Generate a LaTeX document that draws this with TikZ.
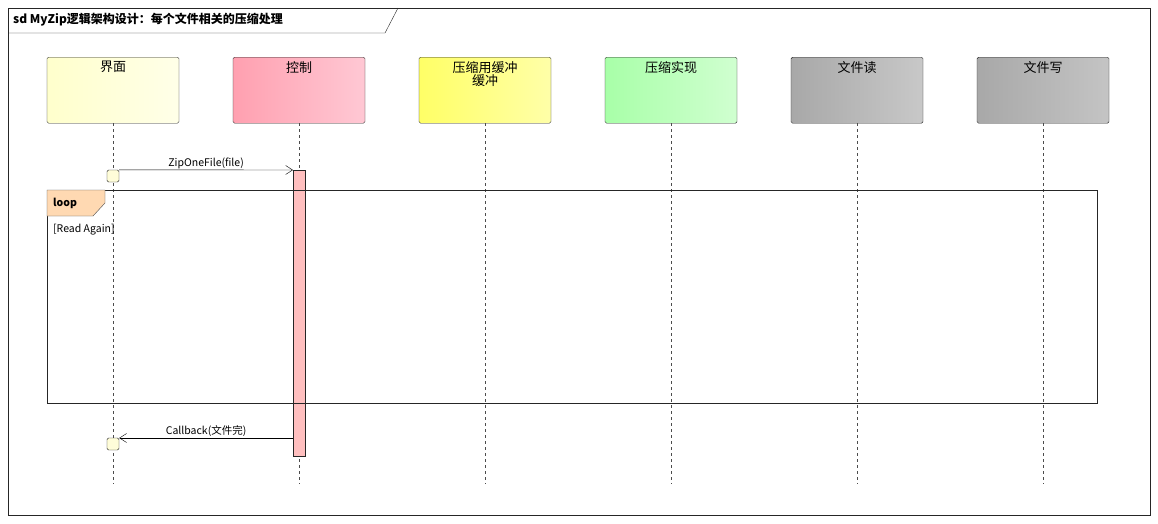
\documentclass[tikz,border=0pt]{standalone}
\usepackage{fontspec}
\setmainfont{Noto Sans CJK SC}
\usetikzlibrary{arrows.meta}
\begin{document}
\begin{tikzpicture}[x=1pt,y=-1pt,
 life/.style={draw=black!85,rounded corners=1.5pt,minimum width=132pt,minimum height=66pt,anchor=north},
 ltxt/.style={anchor=north,align=center,inner sep=0pt,font=\fontsize{13}{14}\selectfont},
 lline/.style={dashed,black!70},
 msg/.style={-{Straight Barb[length=7pt,width=9pt]},black},
 lab/.style={font=\fontsize{10.5}{12}\selectfont,inner sep=1pt}]
\useasboundingbox (0,0) rectangle (1158,523);
\fill[white] (0,0) rectangle (1158,523);
\draw[black!85] (8,8) rectangle (1150,515);
\draw[black!85] (8,33) -- (385,33) -- (398,8);
\node[anchor=west,font=\bfseries\fontsize{12}{14}\selectfont,inner sep=0] (title) at (13,20) {sd MyZip逻辑架构设计：每个文件相关的压缩处理};
\foreach \n/\x/\t/\ca/\cb in {ui/113/界面/FFFFCC/FFFFE8, ctl/299/控制/FFA0B0/FFC8D4, buf/485/{压缩用缓冲\\[-1pt]缓冲}/FFFF66/FFFFA8, imp/671/压缩实现/A8FFA8/D0FFD0, rd/857/文件读/A8A8A8/C8C8C8, wr/1043/文件写/A8A8A8/C4C4C4}{
 \definecolor{ca\n}{HTML}{\ca}\definecolor{cb\n}{HTML}{\cb}
 \node[life,left color=ca\n,right color=cb\n] (\n) at (\x,57) {};
 \node[ltxt] (\n t) at (\x,61) {\t};
 \coordinate (\n e) at (\x,484);
 \draw[lline] (\n.south) -- (\n e);
}
\draw[black!85,fill=pink] (293,170) rectangle (305,456);
\coordinate (cA) at (293,170);
\coordinate (cB) at (293,438);
\node[draw=black!85,fill=yellow!15,rounded corners=1.5pt,minimum size=12pt,inner sep=0] (a1) at (113,176) {};
\node[draw=black!85,fill=yellow!15,rounded corners=1.5pt,minimum size=12pt,inner sep=0] (a2) at (113,444) {};
\draw[msg] (a1.north east) -- node[lab,above] {ZipOneFile(file)} (cA);
\draw[msg] (cB) -- node[lab,above] {Callback(文件完)} (a2.east|-cB);
\draw[black!85] (47,190) rectangle (1097,403);
\draw[black!70,fill=orange!30] (47,190) -- (105,190) -- (105,203) -- (93,216) -- (47,216) -- cycle;
\node[anchor=west,font=\bfseries\fontsize{10.5}{12}\selectfont,inner sep=0] (lp) at (53,203) {loop};
\node[anchor=west,lab,inner sep=0] (ra) at (53,230) {[Read Again]};
\end{tikzpicture}
\end{document}
